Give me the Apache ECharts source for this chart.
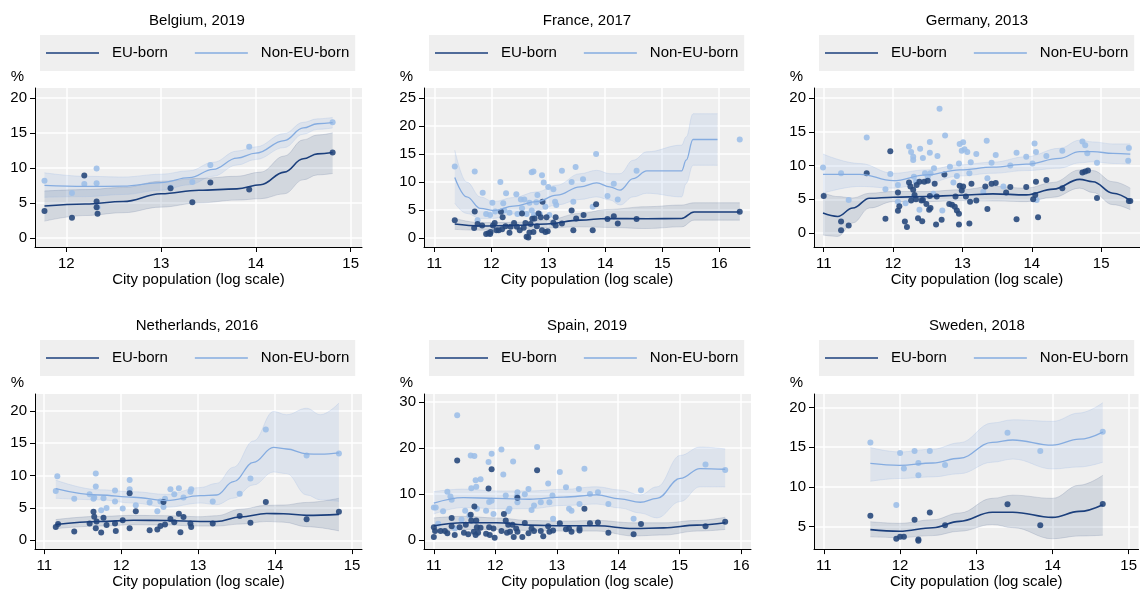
<!DOCTYPE html>
<html>
<head>
<meta charset="utf-8">
<script src="https://cdn.jsdelivr.net/npm/echarts@6/dist/echarts.min.js"></script>
<style>
  html, body { margin: 0; padding: 0; background: #fff; }
  #chart { width: 1140px; height: 590px; }
</style>
</head>
<body>
<div id="chart"></div>
<script>
// Share of self-employed by city size, EU-born vs non-EU-born.
// Fit rows: [log population, fitted %, lower CI, upper CI]

// ---- Belgium, 2019
const bePtsEU = [[11.77,3.85],[12.06,2.9],[12.19,8.9],[12.32,4.4],[12.32,5.2],[12.33,3.45],[13.10,7.1],[13.33,5.1],[13.52,7.9],[13.93,6.9],[14.81,12.2]];
const bePtsNon = [[11.77,8.15],[12.06,6.4],[12.19,7.7],[12.32,7.8],[12.32,9.9],[12.33,4.4],[13.10,7.2],[13.33,8.0],[13.52,10.4],[13.93,13.0],[14.81,16.5]];
const beFitEU = [[11.77,4.55,2.4,6.7],[12.2,4.85,3.2,6.9],[12.6,5.2,3.6,7.2],[13.0,6.3,4.4,8.1],[13.4,6.8,5.0,8.5],[13.8,7.0,5.4,8.8],[14.05,7.6,5.6,9.4],[14.3,9.4,6.3,11.7],[14.5,11.3,8.3,14.0],[14.65,12.0,9.0,14.7],[14.81,12.2,9.2,15.0]];
const beFitNon = [[11.77,7.5,5.8,9.3],[12.2,7.35,5.9,8.8],[12.6,7.4,6.2,8.7],[13.0,7.9,6.8,9.1],[13.3,8.6,7.6,9.6],[13.55,9.8,8.8,10.8],[13.8,11.4,10.4,12.4],[14.0,12.1,11.2,13.0],[14.3,13.9,12.9,14.9],[14.5,15.7,14.8,16.5],[14.65,16.3,15.5,17.0],[14.81,16.45,15.7,17.2]];

// ---- France, 2017
const frPtsEU = [[11.36,3.2],[11.71,4.75],[11.7,1.8],[11.76,2.5],[11.84,2.25],[11.91,0.7],[11.95,0.85],[11.99,1.1],[11.98,0.7],[12.03,2.25],[12.06,2.7],[12.09,1.4],[12.13,1.4],[12.17,4.7],[12.2,3.7],[12.19,1.55],[12.25,2.1],[12.32,0.95],[12.34,2.0],[12.4,2.7],[12.45,2.0],[12.5,1.4],[12.54,4.4],[12.57,1.85],[12.6,2.7],[12.62,0.25],[12.65,0.1],[12.67,1.0],[12.69,2.5],[12.72,3.45],[12.74,1.1],[12.76,3.5],[12.8,2.1],[12.83,4.4],[12.87,3.7],[12.89,1.4],[12.9,6.5],[12.95,1.1],[12.97,3.7],[12.99,1.2],[13.09,2.75],[13.13,3.7],[13.13,2.25],[13.24,2.6],[13.41,4.9],[13.44,1.4],[13.49,3.5],[13.62,4.1],[13.78,1.4],[13.84,6.05],[14.04,3.4],[14.15,3.9],[14.22,2.6],[14.55,3.4],[16.36,4.7]];
const frPtsNon = [[11.36,12.8],[11.71,11.9],[11.85,8.1],[11.76,3.2],[11.91,4.3],[11.98,4.1],[12.02,6.3],[12.07,4.75],[12.16,10.0],[12.21,6.2],[12.23,4.9],[12.26,8.0],[12.32,4.5],[12.44,7.8],[12.46,4.3],[12.52,6.9],[12.54,5.3],[12.58,6.9],[12.62,4.3],[12.67,6.3],[12.71,11.75],[12.74,11.9],[12.71,4.9],[12.75,4.1],[12.79,6.4],[12.81,7.7],[12.85,4.3],[12.89,11.2],[12.92,9.9],[12.95,5.6],[13.0,9.1],[13.02,4.1],[13.09,8.7],[13.12,6.5],[13.14,5.9],[13.24,12.0],[13.41,10.0],[13.44,6.5],[13.48,12.7],[13.61,10.5],[13.78,5.6],[13.84,15.0],[14.04,7.5],[14.15,9.7],[14.22,6.9],[14.55,12.0],[16.36,17.6]];
const frFitEU = [[11.36,2.5,1.55,3.5],[11.81,2.15,1.4,2.75],[12.39,2.25,1.7,2.8],[12.97,2.5,1.8,3.2],[13.56,3.2,2.0,4.4],[14.03,3.5,1.9,5.1],[14.73,3.45,1.7,5.6],[15.34,3.5,2.0,5.9],[15.56,4.65,3.2,6.3],[16.36,4.65,3.2,6.3]];
const frFitNon = [[11.36,10.8,6.2,15.7],[11.57,7.35,4.4,10.0],[11.81,5.3,3.5,7.35],[12.04,4.9,3.5,6.5],[12.39,5.7,4.3,7.25],[12.8,6.5,4.9,8.25],[13.15,7.65,5.9,9.45],[13.56,9.15,6.9,11.5],[13.85,9.85,7.35,12.1],[14.08,9.15,6.8,11.5],[14.26,8.55,5.9,11.5],[14.49,10.6,7.35,13.9],[14.73,12.0,8.0,15.4],[15.34,12.0,7.35,16.6],[15.42,13.9,9.75,18.05],[15.54,17.6,13.0,22.2],[15.97,17.6,13.0,22.2]];

// ---- Germany, 2013
const dePtsEU = [[11.0,5.5],[11.25,1.7],[11.25,0.4],[11.36,1.1],[11.62,8.85],[11.89,2.1],[11.96,12.1],[12.07,6.0],[12.07,3.3],[12.09,3.95],[12.17,1.7],[12.2,0.9],[12.23,7.5],[12.25,6.9],[12.26,4.8],[12.29,6.4],[12.31,5.65],[12.33,5.0],[12.34,7.1],[12.36,2.2],[12.38,7.6],[12.41,4.8],[12.42,1.75],[12.43,4.9],[12.45,7.6],[12.48,4.3],[12.5,7.75],[12.52,3.45],[12.53,5.5],[12.54,3.7],[12.6,7.3],[12.62,1.25],[12.63,5.4],[12.7,1.95],[12.74,8.65],[12.81,4.3],[12.85,4.2],[12.89,3.9],[12.9,5.4],[12.92,3.35],[12.95,2.85],[12.95,1.25],[12.96,7.0],[12.99,6.3],[13.01,6.9],[13.05,5.4],[13.11,4.65],[13.13,7.3],[13.1,1.4],[13.2,4.8],[13.33,6.9],[13.36,3.55],[13.42,7.3],[13.48,7.4],[13.63,6.0],[13.69,6.8],[13.78,2.05],[13.92,6.8],[14.02,5.0],[14.05,5.65],[14.06,7.6],[14.09,2.35],[14.21,7.85],[14.44,6.65],[14.73,8.95],[14.77,9.1],[14.81,9.25],[14.94,5.2],[15.4,4.75],[15.42,4.75]];
const dePtsNon = [[10.99,9.7],[11.25,8.85],[11.36,4.9],[11.62,14.15],[11.96,8.75],[11.89,6.5],[12.07,7.1],[12.07,4.65],[12.18,4.4],[12.23,12.8],[12.26,12.0],[12.29,11.3],[12.29,10.8],[12.3,8.35],[12.3,5.4],[12.33,7.6],[12.38,3.45],[12.39,12.5],[12.43,11.1],[12.46,8.85],[12.5,8.35],[12.53,11.9],[12.53,13.5],[12.54,8.85],[12.58,5.8],[12.59,9.6],[12.64,11.4],[12.67,18.4],[12.71,3.35],[12.75,14.45],[12.82,9.8],[12.87,7.5],[12.92,8.45],[12.95,10.3],[12.96,13.2],[12.99,12.2],[13.01,13.45],[13.03,12.4],[13.07,12.0],[13.1,8.85],[13.12,10.5],[13.2,11.7],[13.3,6.1],[13.35,13.65],[13.36,8.1],[13.42,10.4],[13.48,11.55],[13.59,6.9],[13.69,10.0],[13.78,11.9],[13.92,11.3],[14.01,10.3],[14.04,13.25],[14.06,12.0],[14.07,4.9],[14.21,11.4],[14.44,12.2],[14.73,13.55],[14.77,13.0],[14.8,11.8],[14.94,10.4],[15.4,12.6],[15.39,10.7]];
const deFitEU = [[10.99,2.95,-0.3,6.0],[11.2,2.45,-0.5,5.4],[11.42,3.7,1.5,5.2],[11.66,5.15,3.7,5.9],[12.0,5.3,4.65,6.15],[12.48,5.4,4.65,6.15],[12.96,5.6,4.8,6.4],[13.44,5.8,4.75,6.9],[13.92,5.65,4.65,6.65],[14.31,6.5,5.3,7.5],[14.69,7.95,6.65,9.35],[14.88,7.6,6.0,9.25],[15.17,5.9,4.2,7.6],[15.42,4.8,3.45,6.65]];
const deFitNon = [[10.99,8.7,5.9,11.7],[11.52,8.7,6.9,10.3],[12.0,7.75,6.65,8.85],[12.48,8.6,7.4,9.35],[12.96,9.35,8.45,10.1],[13.44,9.75,8.85,10.5],[13.92,10.2,9.25,11.3],[14.4,11.05,9.6,12.55],[14.69,12.05,10.4,13.75],[14.88,12.05,10.55,13.5],[15.17,11.8,10.3,13.2],[15.42,11.7,10.2,13.2]];

// ---- Netherlands, 2016
const nlPtsEU = [[11.15,2.05],[11.18,2.5],[11.39,1.35],[11.59,2.6],[11.64,4.4],[11.65,3.65],[11.67,1.85],[11.68,2.9],[11.74,1.2],[11.77,3.5],[11.81,2.35],[11.92,2.6],[11.93,1.45],[12.02,3.1],[12.11,7.25],[12.11,1.85],[12.19,4.5],[12.37,1.55],[12.47,1.65],[12.51,2.2],[12.55,5.9],[12.57,2.45],[12.64,3.3],[12.69,2.8],[12.75,4.1],[12.77,1.25],[12.81,3.6],[12.9,2.6],[12.91,2.05],[13.19,2.6],[13.54,3.75],[13.68,2.7],[13.88,5.9],[14.41,3.25],[14.83,4.4]];
const nlPtsNon = [[11.15,7.6],[11.17,9.9],[11.39,6.4],[11.59,7.1],[11.64,6.4],[11.65,6.6],[11.67,10.3],[11.67,8.3],[11.74,4.65],[11.77,6.5],[11.81,5.0],[11.92,7.7],[11.92,6.0],[12.02,4.9],[12.11,9.3],[12.11,7.9],[12.19,5.4],[12.37,5.85],[12.47,4.5],[12.51,6.0],[12.55,5.15],[12.57,6.4],[12.64,7.9],[12.69,7.1],[12.75,8.05],[12.81,6.6],[12.9,7.5],[12.91,7.9],[13.19,6.0],[13.54,7.2],[13.68,9.55],[13.88,17.1],[14.41,13.1],[14.83,13.4]];
const nlFitEU = [[11.15,2.45,1.8,3.2],[11.72,2.9,2.2,3.7],[12.16,3.1,2.4,3.85],[12.59,3.05,2.35,3.8],[13.03,2.9,2.2,3.65],[13.24,2.9,2.2,3.8],[13.55,3.6,2.5,4.8],[13.89,4.15,2.9,5.4],[14.11,4.1,2.8,5.45],[14.41,3.85,2.1,5.85],[14.83,4.0,1.45,6.5]];
const nlFitNon = [[11.15,8.0,6.5,9.3],[11.72,7.0,6.25,7.8],[12.16,6.65,5.75,7.5],[12.59,6.15,5.1,7.1],[13.03,6.9,5.75,8.15],[13.24,7.0,5.5,8.8],[13.46,9.05,6.5,11.3],[13.72,12.05,8.55,15.35],[13.98,14.35,10.55,19.9],[14.15,14.1,10.3,19.4],[14.41,13.35,7.0,20.4],[14.59,13.3,6.25,19.4],[14.83,13.5,6.0,21.2]];

// ---- Spain, 2019
const esPtsEU = [[11.0,2.85],[11.0,0.7],[11.02,2.0],[11.11,2.0],[11.18,2.0],[11.22,1.55],[11.29,3.05],[11.29,4.85],[11.34,1.15],[11.38,17.3],[11.42,2.85],[11.49,1.65],[11.52,3.4],[11.56,1.3],[11.6,5.55],[11.61,4.3],[11.65,1.85],[11.66,7.35],[11.68,1.15],[11.69,4.3],[11.7,2.85],[11.72,1.65],[11.76,2.7],[11.85,1.45],[11.89,11.25],[11.9,2.85],[11.91,1.15],[11.94,15.4],[11.97,2.55],[11.99,0.55],[12.1,2.0],[12.14,5.7],[12.17,4.3],[12.19,1.65],[12.21,3.4],[12.24,1.85],[12.28,3.4],[12.3,0.7],[12.34,2.55],[12.36,9.25],[12.36,1.85],[12.48,3.75],[12.44,0.7],[12.54,1.55],[12.59,2.55],[12.63,2.0],[12.68,15.2],[12.74,2.0],[12.78,0.9],[12.86,3.05],[12.88,1.85],[12.94,2.15],[13.05,3.7],[13.15,2.4],[13.2,2.55],[13.24,1.85],[13.37,2.15],[13.37,2.55],[13.45,6.85],[13.54,3.7],[13.67,3.85],[13.84,1.65],[14.25,1.3],[14.37,3.55],[15.42,3.05],[15.74,4.0]];
const esPtsNon = [[11.0,7.1],[11.03,7.1],[11.07,3.6],[11.15,6.3],[11.22,10.5],[11.27,9.5],[11.29,8.8],[11.34,2.55],[11.38,27.1],[11.45,4.5],[11.51,6.4],[11.58,5.4],[11.6,18.4],[11.61,11.3],[11.66,18.25],[11.68,13.0],[11.69,11.6],[11.7,6.85],[11.76,13.25],[11.85,6.4],[11.89,16.95],[11.9,8.3],[11.94,18.75],[11.94,8.55],[11.97,5.7],[12.1,19.65],[12.13,14.25],[12.17,9.7],[12.21,6.3],[12.23,6.85],[12.29,17.1],[12.35,9.5],[12.36,10.4],[12.36,8.25],[12.48,10.0],[12.54,11.1],[12.59,6.55],[12.63,7.55],[12.68,20.2],[12.74,8.25],[12.86,12.3],[12.88,8.25],[12.93,9.7],[12.94,4.7],[13.05,14.8],[13.15,11.5],[13.2,6.85],[13.24,6.4],[13.36,11.1],[13.37,7.85],[13.45,15.5],[13.54,10.05],[13.67,10.4],[13.84,7.85],[14.25,4.7],[14.37,10.85],[15.42,16.45],[15.74,15.25]];
const esFitEU = [[11.0,3.15,1.65,4.85],[11.48,3.8,2.35,5.2],[12.02,3.8,2.35,4.85],[12.56,3.3,2.15,4.3],[13.11,3.15,2.0,4.15],[13.65,3.15,2.0,4.3],[14.25,2.55,0.95,3.8],[14.74,2.7,1.15,3.8],[15.28,3.3,2.0,4.3],[15.74,3.8,2.35,5.0]];
const esFitNon = [[11.0,8.05,5.7,10.55],[11.48,9.25,7.1,11.1],[12.02,9.1,6.85,10.7],[12.56,8.9,6.85,10.7],[13.11,9.35,7.55,11.05],[13.65,9.85,7.85,11.6],[14.03,9.0,7.0,10.9],[14.36,8.25,5.9,9.85],[14.63,9.1,4.85,11.6],[15.01,13.4,8.4,18.4],[15.33,15.55,11.6,20.2],[15.74,15.4,11.6,19.8]];

// ---- Sweden, 2018
const sePtsEU = [[11.61,6.35],[11.95,3.45],[12.0,3.7],[12.05,3.7],[12.19,5.85],[12.24,3.35],[12.24,3.2],[12.39,6.75],[12.59,5.15],[13.41,7.8],[13.84,5.15],[14.66,7.85]];
const sePtsNon = [[11.61,15.6],[11.95,7.7],[12.0,14.25],[12.05,12.3],[12.19,14.5],[12.24,13.0],[12.24,11.45],[12.39,14.5],[12.59,12.75],[13.41,16.8],[13.84,14.5],[14.66,16.95]];
const seFitEU = [[11.61,4.6,3.7,5.6],[11.99,4.4,3.6,5.4],[12.43,4.85,3.85,5.85],[12.78,5.65,4.4,6.7],[13.21,6.8,5.25,8.55],[13.48,6.8,4.85,8.95],[14.0,6.15,3.45,8.55],[14.35,6.9,3.8,10.2],[14.66,7.75,3.9,11.45]];
const seFitNon = [[11.61,12.95,10.7,14.95],[11.99,12.7,11.05,14.4],[12.43,13.0,11.25,14.75],[12.78,13.6,11.65,15.55],[13.21,15.6,13.1,18.05],[13.48,15.9,13.5,18.45],[14.0,15.25,12.25,18.25],[14.35,16.0,12.5,19.3],[14.66,16.9,13.1,20.6]];

// tick labels and axis ranges
const panelTitles = ['Belgium, 2019', 'France, 2017', 'Germany, 2013', 'Netherlands, 2016', 'Spain, 2019', 'Sweden, 2018'];
const xTicks = [[12,13,14,15], [11,12,13,14,15,16], [11,12,13,14,15], [11,12,13,14,15], [11,12,13,14,15,16], [11,12,13,14,15]];
const yTicks = [[0,5,10,15,20], [0,5,10,15,20,25], [0,5,10,15,20], [0,5,10,15,20], [0,10,20,30], [5,10,15,20]];
const xRange = [[11.67,15.12], [10.82,16.54], [10.86,15.56], [10.88,15.13], [10.84,16.16], [10.87,15.13]];
const yRange = [[-1.29,21.4], [-1.6,26.8], [-2.07,21.48], [-1.36,22.6], [-1.9,31.7], [2.15,21.7]];

const ptsEU = [bePtsEU, frPtsEU, dePtsEU, nlPtsEU, esPtsEU, sePtsEU];
const ptsNon = [bePtsNon, frPtsNon, dePtsNon, nlPtsNon, esPtsNon, sePtsNon];
const fitEU = [beFitEU, frFitEU, deFitEU, nlFitEU, esFitEU, seFitEU];
const fitNon = [beFitNon, frFitNon, deFitNon, nlFitNon, esFitNon, seFitNon];

// layout in pixels: grid [left, top, width, height], title centre, legend box corner
const layout = [
    { grid: [35, 88, 327, 159], title: [197, 13], legend: [40, 35] },
    { grid: [424, 88, 326, 159], title: [587, 13], legend: [429, 35] },
    { grid: [814, 88, 326, 159], title: [977, 13], legend: [819, 35] },
    { grid: [35, 394, 327, 158], title: [197, 318], legend: [40, 340] },
    { grid: [424, 394, 327, 158], title: [587, 318], legend: [429, 340] },
    { grid: [814, 394, 326, 158], title: [977, 318], legend: [819, 340] }
];

const FONT = '"Liberation Sans", Arial, sans-serif';
const EU_LINE = '#1b3f7c';
const NON_LINE = '#85ace0';
const EU_PT = '#28497c';
const NON_PT = '#9dbfe8';
const EU_BAND = 'rgba(50,78,125,0.15)';
const EU_BAND_EDGE = 'rgba(50,78,125,0.2)';
const NON_BAND = 'rgba(135,172,225,0.17)';
const NON_BAND_EDGE = 'rgba(135,172,225,0.25)';

// CI band as two stacked lines; y goes in column 0 so the stack is on y
function band(rows, gi, fill, edge, id) {
    const common = {
        type: 'line', xAxisIndex: gi, yAxisIndex: gi, encode: { x: 1, y: 0 },
        stack: id, stackStrategy: 'all', symbol: 'none', smooth: 0.4, smoothMonotone: 'x',
        silent: true, z: 1, lineStyle: { width: 0.8, color: edge }
    };
    return [
        Object.assign({}, common, { name: id + '-lo', data: rows.map(r => [r[2], r[0]]) }),
        Object.assign({}, common, { name: id + '-hi', data: rows.map(r => [r[3] - r[2], r[0]]), areaStyle: { color: fill, opacity: 1 } })
    ];
}

const series = [];
for (let i = 0; i < 6; i++) {
    series.push(...band(fitNon[i], i, NON_BAND, NON_BAND_EDGE, 'bandNon' + i));
    series.push(...band(fitEU[i], i, EU_BAND, EU_BAND_EDGE, 'bandEU' + i));
    series.push({
        type: 'scatter', name: 'ptsNon' + i, xAxisIndex: i, yAxisIndex: i, data: ptsNon[i],
        symbolSize: 6, itemStyle: { color: NON_PT, opacity: 0.9 }, silent: true, z: 2
    });
    series.push({
        type: 'scatter', name: 'ptsEU' + i, xAxisIndex: i, yAxisIndex: i, data: ptsEU[i],
        symbolSize: 6, itemStyle: { color: EU_PT, opacity: 0.9 }, silent: true, z: 2
    });
    series.push({
        type: 'line', name: 'Non-EU-born', xAxisIndex: i, yAxisIndex: i,
        data: fitNon[i].map(r => [r[0], r[1]]), symbol: 'none', smooth: 0.4, smoothMonotone: 'x',
        itemStyle: { color: NON_LINE }, lineStyle: { color: NON_LINE, width: 1.3 }, silent: true, z: 4
    });
    series.push({
        type: 'line', name: 'EU-born', xAxisIndex: i, yAxisIndex: i,
        data: fitEU[i].map(r => [r[0], r[1]]), symbol: 'none', smooth: 0.4, smoothMonotone: 'x',
        itemStyle: { color: EU_LINE }, lineStyle: { color: EU_LINE, width: 1.6 }, silent: true, z: 4
    });
}

const option = {
    animation: false,
    backgroundColor: '#fff',
    textStyle: { fontFamily: FONT },
    title: layout.map((l, i) => ({
        text: panelTitles[i], left: l.title[0], top: l.title[1], textAlign: 'center', padding: 0,
        textStyle: { fontSize: 15, fontWeight: 'normal', color: '#000', fontFamily: FONT }
    })),
    legend: layout.map(l => ({
        left: l.legend[0], top: l.legend[1], orient: 'horizontal',
        data: [
            { name: 'EU-born', itemStyle: { color: EU_LINE } },
            { name: 'Non-EU-born', itemStyle: { color: NON_LINE } }
        ],
        selectedMode: false, icon: 'rect',
        backgroundColor: '#efefef', padding: [9, 6, 9, 6],
        itemWidth: 53, itemHeight: 1.6, itemGap: 27,
        textStyle: { fontSize: 15, lineHeight: 18, color: '#000', fontFamily: FONT, padding: [0, 0, 0, 8] }
    })),
    grid: layout.map(l => ({
        left: l.grid[0], top: l.grid[1], width: l.grid[2], height: l.grid[3],
        show: true, backgroundColor: '#efefef', borderWidth: 0, containLabel: false
    })),
    xAxis: layout.map((l, i) => ({
        gridIndex: i, type: 'value', min: xRange[i][0], max: xRange[i][1],
        axisLine: { show: true, onZero: false, lineStyle: { color: '#000', width: 1 } },
        axisTick: { show: true, length: 5, customValues: xTicks[i], lineStyle: { color: '#000' } },
        axisLabel: { customValues: xTicks[i], fontSize: 15, color: '#000', margin: 9, fontFamily: FONT },
        splitLine: { show: true, lineStyle: { color: '#fff', width: 1.5 } },
        name: 'City population (log scale)', nameLocation: 'middle', nameGap: 23,
        nameTextStyle: { fontSize: 15, color: '#000', fontFamily: FONT }
    })),
    yAxis: layout.map((l, i) => ({
        gridIndex: i, type: 'value', min: yRange[i][0], max: yRange[i][1],
        axisLine: { show: true, onZero: false, lineStyle: { color: '#000', width: 1 } },
        axisTick: { show: true, length: 5, customValues: yTicks[i], lineStyle: { color: '#000' } },
        axisLabel: { customValues: yTicks[i], fontSize: 15, color: '#000', margin: 8, fontFamily: FONT },
        splitLine: { show: true, lineStyle: { color: '#fff', width: 1.5 } },
        name: '%', nameLocation: 'end', nameGap: 4,
        nameTextStyle: { fontSize: 15, color: '#000', fontFamily: FONT, align: 'right', padding: [0, 11, 0, 0] }
    })),
    series: series
};

const chart = echarts.init(document.getElementById('chart'), null, { renderer: 'canvas' });
chart.setOption(option);
</script>
</body>
</html>
